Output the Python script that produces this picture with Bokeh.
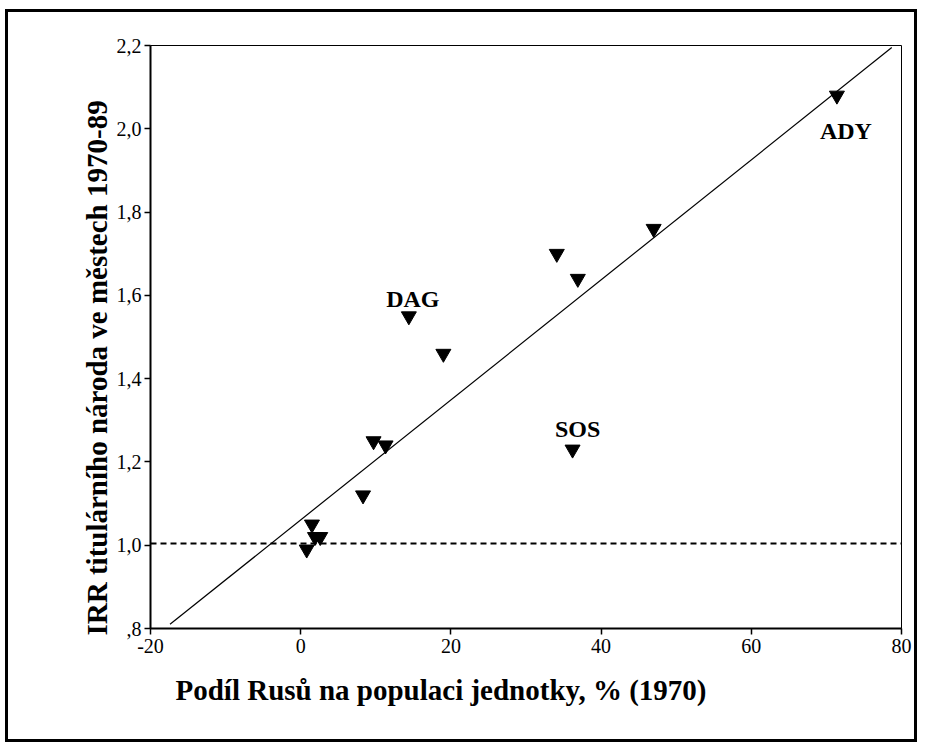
from bokeh.plotting import figure
from bokeh.models import Range1d, FixedTicker, CustomJSTickFormatter, Span, Label, ColumnDataSource, Title
from bokeh.embed import file_html
from bokeh.resources import INLINE

# --- data ---
share_russians = [0.8, 1.5, 1.9, 2.6, 8.3, 9.7, 11.3, 14.4, 19.0, 34.1, 36.2, 36.9, 47.0, 71.4]
irr_titular = [0.99, 1.05, 1.02, 1.02, 1.12, 1.25, 1.24, 1.55, 1.46, 1.70, 1.23, 1.64, 1.76, 2.08]

fit_x = [-17.4, 78.7]
fit_y = [0.81, 2.195]
reference_level = 1.004

named_units = ["DAG", "SOS", "ADY"]
named_x = [14.4, 36.2, 71.4]
named_y = [1.55, 1.23, 2.08]

x_ticks = [-20, 0, 20, 40, 60, 80]
y_ticks = [0.8, 1.0, 1.2, 1.4, 1.6, 1.8, 2.0, 2.2]

x_title = "Podíl Rusů na populaci jednotky, % (1970)"
y_title = "IRR titulárního národa ve městech 1970-89"

FONT = "Liberation Serif"

p = figure(width=912, height=733, output_backend="svg", toolbar_location=None,
           x_range=Range1d(-20, 80), y_range=Range1d(0.8, 2.2),
           min_border_left=142, min_border_right=19, min_border_top=33, min_border_bottom=117,
           background_fill_color="white", border_fill_color="white")
p.styles = {"border": "3px solid black", "margin-left": "5px", "margin-top": "9px"}
p.grid.visible = False
p.outline_line_color = "black"
p.outline_line_width = 1

for ax in (p.xaxis[0], p.yaxis[0]):
    ax.axis_line_width = 2
    ax.axis_line_color = "black"
    ax.major_tick_in = 0
    ax.major_tick_out = 6
    ax.major_tick_line_width = 1.5
    ax.minor_tick_line_color = None
    ax.major_label_text_font = FONT
    ax.major_label_text_font_size = "20px"
    ax.major_label_text_color = "black"

p.xaxis[0].ticker = FixedTicker(ticks=x_ticks)
p.xaxis[0].formatter = CustomJSTickFormatter(code="return tick.toFixed(0);")
p.xaxis[0].major_label_standoff = 4
p.yaxis[0].ticker = FixedTicker(ticks=y_ticks)
p.yaxis[0].formatter = CustomJSTickFormatter(
    code="return tick.toFixed(1).replace('.', ',').replace(/^0/, '');")
p.yaxis[0].major_label_standoff = 3

# reference line at IRR ~ 1
p.add_layout(Span(location=reference_level, dimension="width", line_color="black",
                  line_width=2, line_dash="6 4"))

# regression line
p.line(fit_x, fit_y, line_color="black", line_width=1.2)

# points
src = ColumnDataSource(dict(x=share_russians, y=irr_titular))
p.scatter("x", "y", source=src, marker="inverted_triangle", size=15,
          fill_color="black", line_color="black")

# named units
offsets = {"DAG": (4, 17), "SOS": (5, 20), "ADY": (9, -36)}
for name, lx, ly in zip(named_units, named_x, named_y):
    dx, dy = offsets[name]
    p.add_layout(Label(x=lx, y=ly, text=name, x_offset=dx, y_offset=dy,
                       text_font=FONT, text_font_style="bold", text_font_size="24px",
                       text_align="center", text_baseline="middle", text_color="black"))

# axis titles as side titles
p.add_layout(Title(text=x_title, align="left", offset=25, standoff=32,
                   text_font=FONT, text_font_style="bold", text_font_size="29px",
                   text_color="black"), "below")
p.add_layout(Title(text=y_title, align="left", offset=-7, standoff=2,
                   text_font=FONT, text_font_style="bold", text_font_size="29px",
                   text_color="black"), "left")

open("out.html", "w").write(file_html(p, INLINE))
